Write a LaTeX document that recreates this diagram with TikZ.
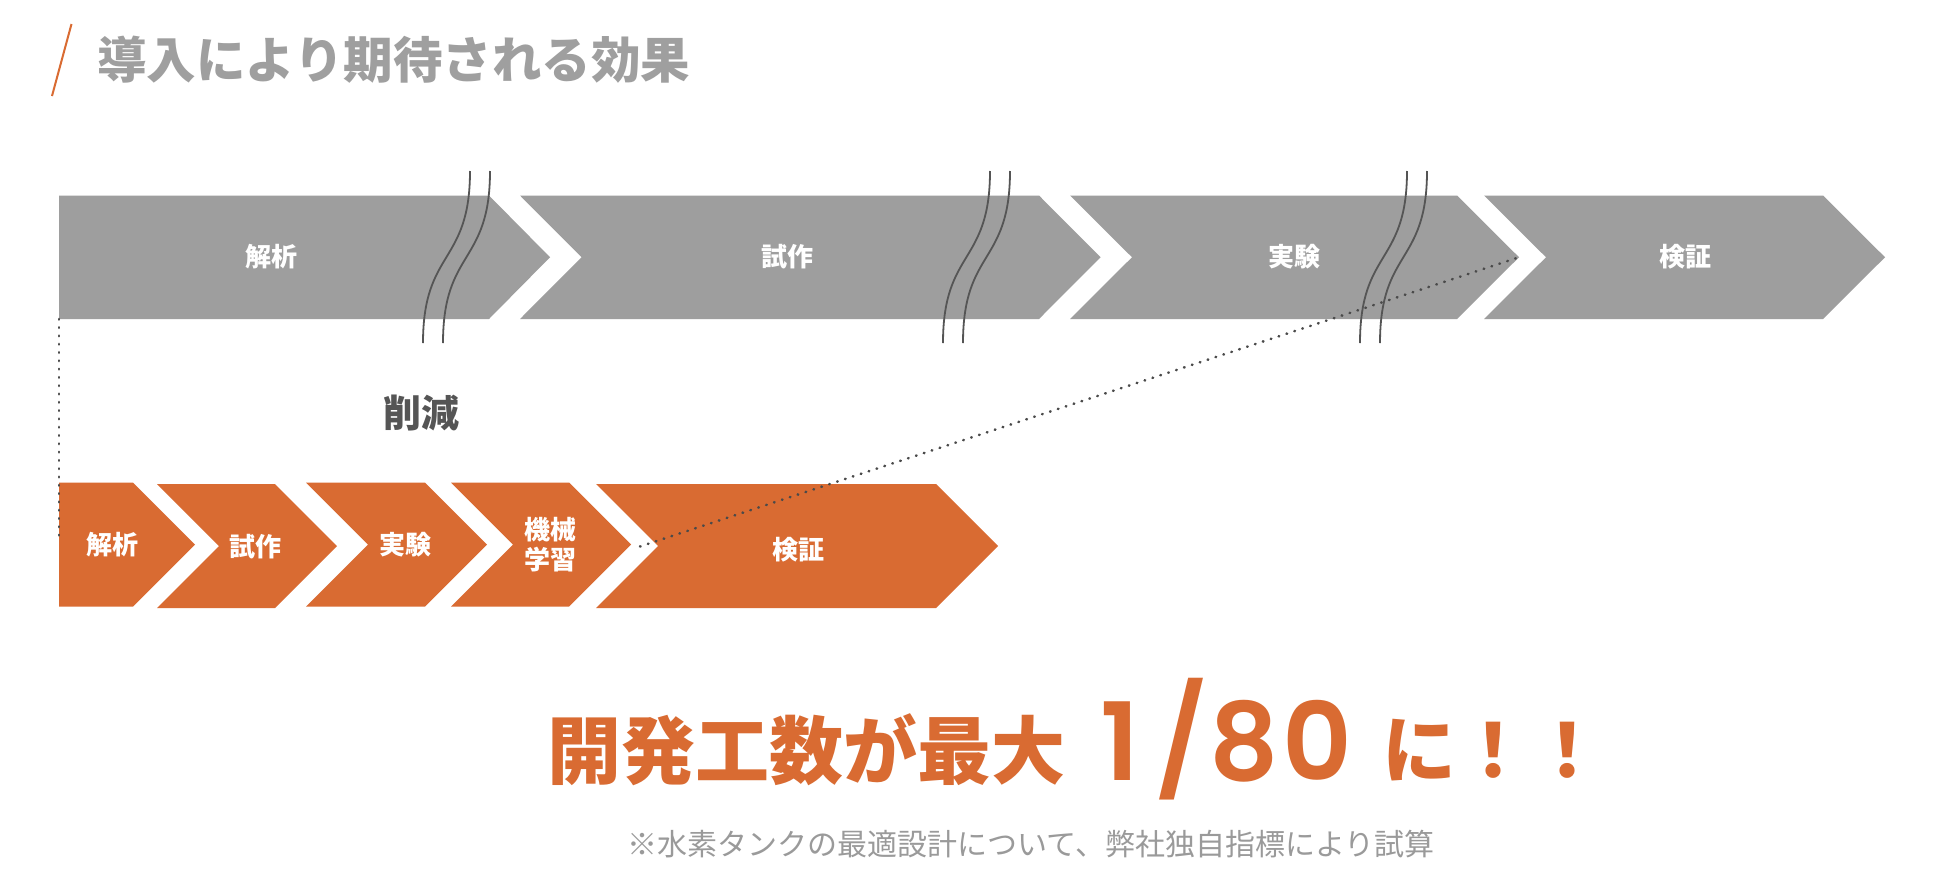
\documentclass[tikz,border=0pt]{standalone}
\usepackage{fontspec}
\setmainfont{Noto Sans CJK JP}
\newfontfamily\popfont{Poppins}[UprightFont={* SemiBold}]
\definecolor{accent}{HTML}{D96B32}
\definecolor{arrowgray}{HTML}{9E9E9E}
\definecolor{titlegray}{HTML}{9F9F9F}
\definecolor{darkline}{HTML}{555555}
\definecolor{dotgray}{HTML}{4A4A4A}
\definecolor{notegray}{HTML}{9A9A9A}
\tikzset{
  grayarrow/.style={fill=arrowgray},
  orangearrow/.style={fill=accent},
  lbl/.style={text=white, font=\fontsize{26}{30}\selectfont\bfseries, inner sep=0pt, align=center},
  breakline/.style={draw=darkline, line width=1.8pt},
  dotline/.style={draw=dotgray, line width=2.6pt, line cap=round, dash pattern=on 0.6pt off 7.7pt},
}
\begin{document}
\begin{tikzpicture}[x=1pt,y=-1pt]
\fill[white] (0,0) rectangle (1940,894);
\path[use as bounding box] (0,0) rectangle (1940,894);

% title
\draw[accent, line width=2pt] (71.5,24) -- (52,96);
\node[anchor=west, inner sep=0pt, text=titlegray, font=\fontsize{49.5}{52}\selectfont\bfseries] (title) at (97,60) {導入により期待される効果};

% gray process arrows
\fill[grayarrow] (59,195.5) -- (489,195.5) -- (550,257.25) -- (489,319) -- (59,319) -- cycle;
\fill[grayarrow] (520,195.5) -- (1039,195.5) -- (1100.5,257.25) -- (1039,319) -- (520,319) -- (581.5,257.25) -- cycle;
\fill[grayarrow] (1070,195.5) -- (1457,195.5) -- (1519,257.25) -- (1457,319) -- (1070,319) -- (1132,257.25) -- cycle;
\fill[grayarrow] (1484,195.5) -- (1823,195.5) -- (1885,257.25) -- (1823,319) -- (1484,319) -- (1546,257.25) -- cycle;

\node[lbl] (g1) at (271,257) {解析};
\node[lbl] (g2) at (787,257) {試作};
\node[lbl] (g3) at (1294,257) {実験};
\node[lbl] (g4) at (1685,257) {検証};

% orange process arrows
\fill[orangearrow] (59,482.5) -- (133,482.5) -- (195,544.5) -- (133,606.5) -- (59,606.5) -- cycle;
\fill[orangearrow] (157,484) -- (275,484) -- (337,546) -- (275,608) -- (157,608) -- (219,546) -- cycle;
\fill[orangearrow] (306,482.5) -- (425,482.5) -- (487,544.5) -- (425,606.5) -- (306,606.5) -- (368,544.5) -- cycle;
\fill[orangearrow] (451,482.5) -- (569,482.5) -- (631,544.5) -- (569,606.5) -- (451,606.5) -- (513,544.5) -- cycle;
\fill[orangearrow] (596,484) -- (936,484) -- (998,546) -- (936,608) -- (596,608) -- (658,546) -- cycle;

\node[lbl] (o1) at (112,545) {解析};
\node[lbl] (o2) at (255,547) {試作};
\node[lbl] (o3) at (405,545) {実験};
\node[lbl] (o4) at (550,545) {機械\\学習};
\node[lbl] (o5) at (798,550) {検証};

% reduction label
\node[inner sep=0pt, text=darkline, font=\fontsize{38}{40}\selectfont\bfseries] (cut) at (421,413) {削減};

% dotted connectors
\coordinate (g1corner) at (59,319);
\coordinate (o1left) at (59,542);
\coordinate (g3tip) at (1519,257.25);
\coordinate (o4tip) at (640,546.5);
\draw[dotline] (g1corner) -- (o1left);
\draw[dotline] (o4tip) -- (g3tip);

% break marks
\foreach \t in {470,490,990,1010,1407,1427}{
  \draw[breakline] (\t,171) .. controls (\t,265) and ({\t-47},249) .. ({\t-47},343);
}

% result
\node[inner sep=0pt, text=accent, font=\fontsize{74}{80}\selectfont\bfseries] (res1) at (806,750) {開発工数が最大};
\node[anchor=base west, inner sep=0pt, text=accent, font=\popfont\fontsize{108}{110}\selectfont] (res2) at (1100,780) {1\kern16pt/\kern2pt8\kern3pt0};
\node[anchor=west, inner sep=0pt, text=accent, font=\fontsize{74}{80}\selectfont\bfseries] (res3) at (1382,750) {に！！};

% footnote
\node[inner sep=0pt, text=notegray, font=\fontsize{30}{32}\selectfont] (note) at (1031,844) {※水素タンクの最適設計について、弊社独自指標により試算};
\end{tikzpicture}
\end{document}
